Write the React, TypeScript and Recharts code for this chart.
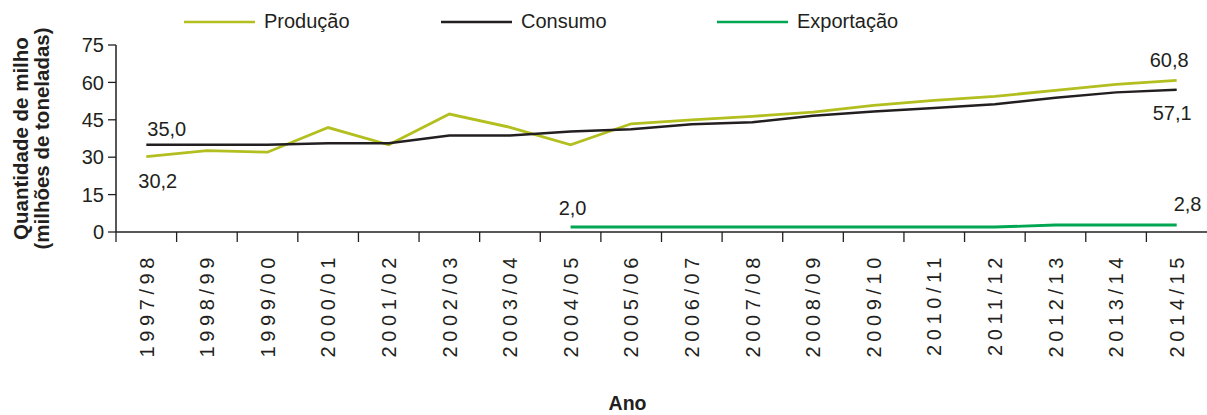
import React from 'react';
import { LineChart, Line, XAxis, YAxis, Legend, LabelList } from 'recharts';

const categories = [
  '1997/98', '1998/99', '1999/00', '2000/01', '2001/02', '2002/03',
  '2003/04', '2004/05', '2005/06', '2006/07', '2007/08', '2008/09',
  '2009/10', '2010/11', '2011/12', '2012/13', '2013/14', '2014/15',
];
const producao = [30.2, 32.6, 32.0, 41.9, 35.0, 47.3, 42.0, 35.0, 43.4, 45.0, 46.4, 48.1, 50.8, 52.8, 54.4, 56.8, 59.2, 60.8];
const consumo = [35.0, 35.0, 35.0, 35.6, 35.6, 38.7, 38.7, 40.3, 41.2, 43.2, 44.0, 46.6, 48.3, 49.7, 51.2, 53.8, 56.0, 57.1];
const exportacao = [null, null, null, null, null, null, null, 2.0, 2.0, 2.0, 2.0, 2.0, 2.0, 2.0, 2.0, 2.8, 2.8, 2.8];
const yTicks = [0, 15, 30, 45, 60, 75];
const seriesNames = ['Produção', 'Consumo', 'Exportação'];

const data = categories.map((ano, i) => ({
  ano,
  producao: producao[i],
  consumo: consumo[i],
  exportacao: exportacao[i],
}));

const FONT = '"Liberation Sans", Arial, Helvetica, sans-serif';
const TEXT = '#231f20';
const C_PROD = '#b2bf1f';
const C_CONS = '#231f20';
const C_EXP = '#00a651';
const FS = 20;

const fmt = (v: number) => v.toFixed(1).replace('.', ',');

type Spec = { dx: number; dy: number; anchor: 'start' | 'middle' | 'end' };

const makeLabel = (specs: Record<number, Spec>) => (props: any) => {
  const { x, y, value, index } = props;
  const s = specs[index];
  if (!s || value == null) return null;
  return (
    <text x={x + s.dx} y={y + s.dy} textAnchor={s.anchor} fontFamily={FONT} fontSize={FS} fill={TEXT}>
      {fmt(Number(value))}
    </text>
  );
};

const prodLabel = makeLabel({ 0: { dx: -8, dy: 31, anchor: 'start' }, 17: { dx: 12, dy: -13, anchor: 'end' } });
const consLabel = makeLabel({ 0: { dx: 1, dy: -9, anchor: 'start' }, 17: { dx: 15, dy: 30, anchor: 'end' } });
const expLabel = makeLabel({ 7: { dx: 2, dy: -12, anchor: 'middle' }, 17: { dx: -3, dy: -14, anchor: 'start' } });

const XTick = (props: any) => {
  const { x, y, payload, width, visibleTicksCount } = props;
  const half = width / visibleTicksCount / 2;
  return (
    <g>
      <line x1={x - half} x2={x - half} y1={y} y2={y + 10} stroke={TEXT} strokeWidth={1.3} />
      <text
        transform={`translate(${x},${y + 21}) rotate(-90)`}
        textAnchor="end"
        dy="0.36em"
        fontFamily={FONT}
        fontSize={FS}
        letterSpacing={4.6}
        fill={TEXT}
      >
        {payload.value}
      </text>
    </g>
  );
};

const YTitle = (props: any) => {
  const vb = props.viewBox || { x: 0, y: 45, width: 116, height: 187 };
  const cy = vb.y + vb.height / 2;
  return (
    <g fontFamily={FONT} fontSize={20.5} fontWeight="bold" fill={TEXT}>
      <text transform={`translate(${vb.x + 28},${cy}) rotate(-90)`} textAnchor="middle">
        Quantidade de milho
      </text>
      <text transform={`translate(${vb.x + 49},${cy}) rotate(-90)`} textAnchor="middle">
        (milhões de toneladas)
      </text>
    </g>
  );
};

const XTitle = (props: any) => {
  const vb = props.viewBox || { x: 116, y: 232, width: 1091, height: 183 };
  return (
    <text
      x={vb.x + vb.width / 2 - 34}
      y={vb.y + vb.height - 5}
      textAnchor="middle"
      fontFamily={FONT}
      fontSize={19.5}
      fontWeight="bold"
      fill={TEXT}
    >
      Ano
    </text>
  );
};

const legendLeft = [184, 441, 717];

const renderLegend = (props: any) => {
  const payload = [...(props.payload || [])].sort(
    (a: any, b: any) => seriesNames.indexOf(a.value) - seriesNames.indexOf(b.value)
  );
  return (
    <div style={{ position: 'relative', height: 45, width: 1207 }}>
      {payload.map((item: any, i: number) => (
        <div key={i} style={{ position: 'absolute', left: legendLeft[i], top: 0, height: 45 }}>
          <svg width={72} height={45} style={{ position: 'absolute', left: 0, top: 0 }}>
            <line x1={0} x2={71} y1={22} y2={22} stroke={item.color} strokeWidth={2.5} />
          </svg>
          <span
            style={{
              position: 'absolute',
              left: 80,
              top: 10,
              fontFamily: FONT,
              fontSize: FS,
              color: TEXT,
              whiteSpace: 'nowrap',
              lineHeight: '22px',
            }}
          >
            {item.value}
          </span>
        </div>
      ))}
    </div>
  );
};

export default function App() {
  return (
    <div style={{ position: 'absolute', left: 0, top: 0, background: '#fff' }}>
      <LineChart width={1207} height={415} data={data} margin={{ top: 0, right: 0, bottom: 0, left: 0 }}>
        <Legend verticalAlign="top" align="left" content={renderLegend} wrapperStyle={{ left: 0, top: 0 }} />
        <XAxis
          dataKey="ano"
          scale="band"
          interval={0}
          height={183}
          tickLine={false}
          tickSize={0}
          tickMargin={0}
          tick={<XTick />}
          axisLine={{ stroke: TEXT, strokeWidth: 1.5 }}
          label={{ content: <XTitle /> }}
        />
        <YAxis
          domain={[0, 75]}
          ticks={yTicks}
          interval={0}
          width={116}
          tickSize={8}
          tickMargin={4}
          tick={{ fontFamily: FONT, fontSize: FS, fill: TEXT }}
          tickLine={{ stroke: TEXT, strokeWidth: 1.3 }}
          axisLine={{ stroke: TEXT, strokeWidth: 1.5 }}
          label={{ content: <YTitle /> }}
        />
        <Line
          name={seriesNames[0]}
          dataKey="producao"
          stroke={C_PROD}
          strokeWidth={2.8}
          dot={false}
          isAnimationActive={false}
        >
          <LabelList dataKey="producao" content={prodLabel} />
        </Line>
        <Line
          name={seriesNames[1]}
          dataKey="consumo"
          stroke={C_CONS}
          strokeWidth={2.5}
          dot={false}
          isAnimationActive={false}
        >
          <LabelList dataKey="consumo" content={consLabel} />
        </Line>
        <Line
          name={seriesNames[2]}
          dataKey="exportacao"
          stroke={C_EXP}
          strokeWidth={2.8}
          dot={false}
          isAnimationActive={false}
        >
          <LabelList dataKey="exportacao" content={expLabel} />
        </Line>
      </LineChart>
    </div>
  );
}
